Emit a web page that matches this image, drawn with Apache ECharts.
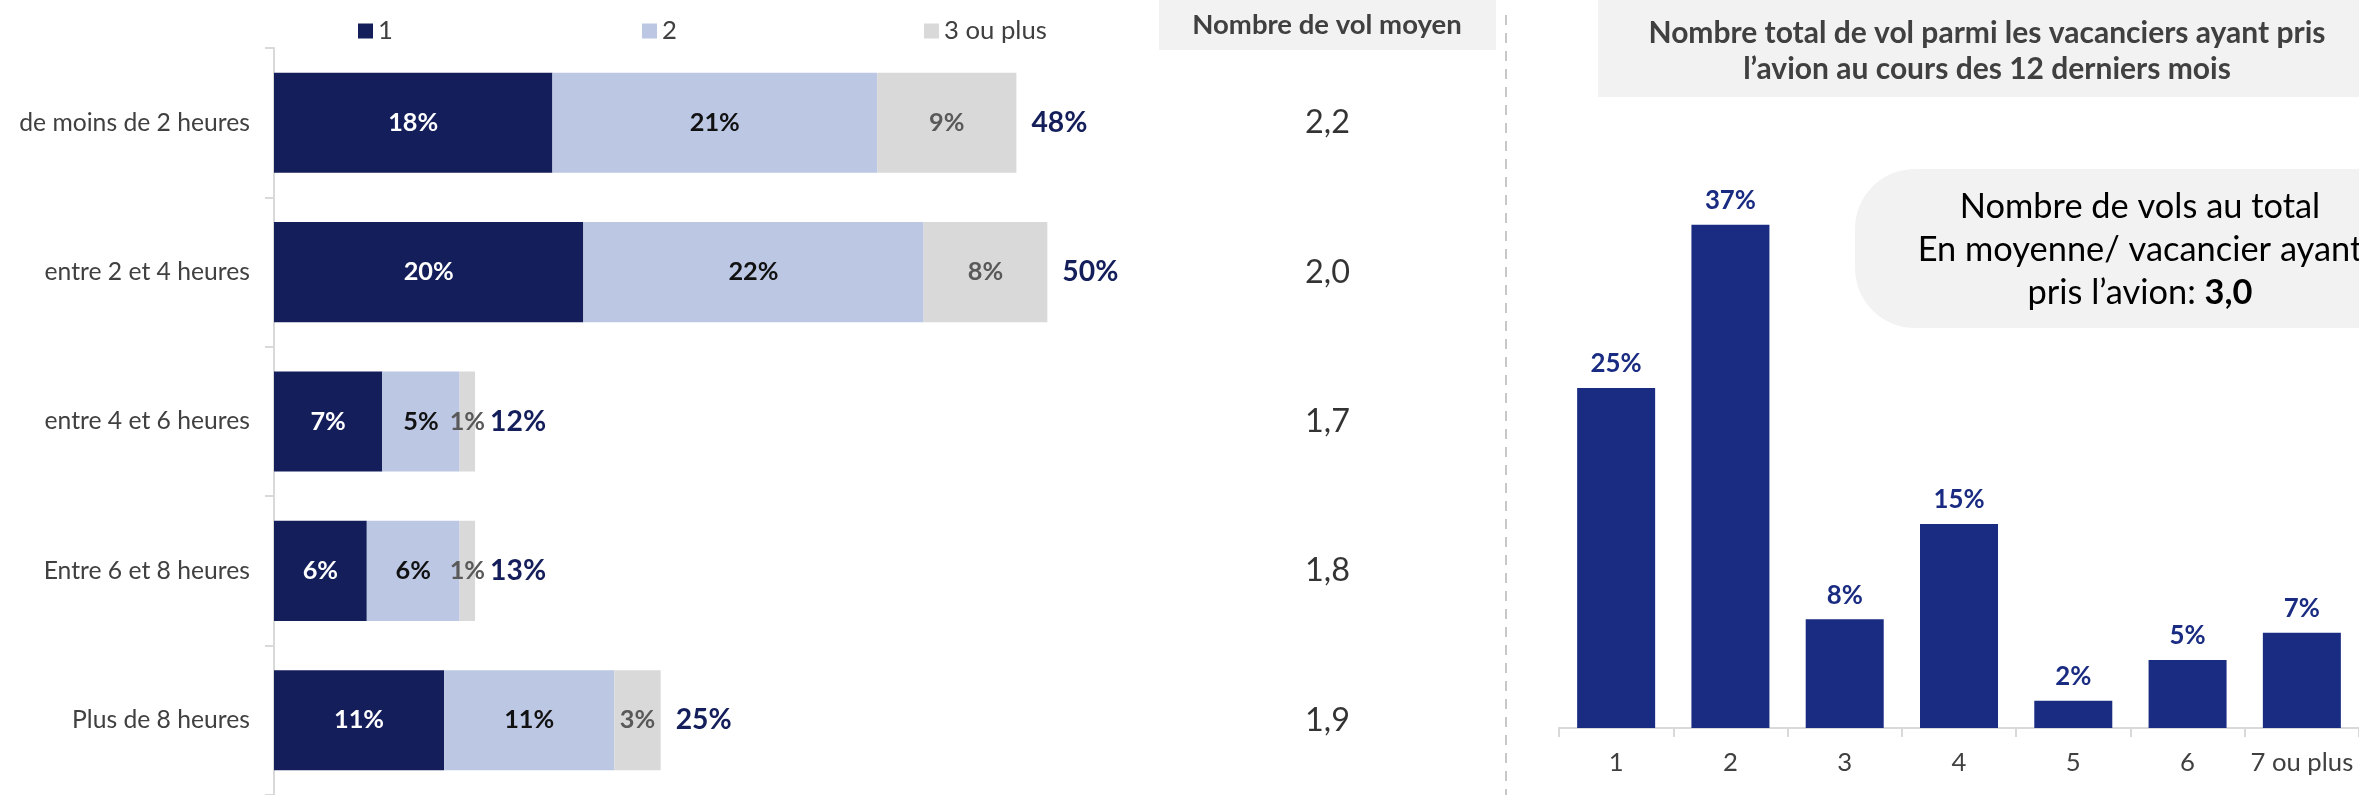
<!DOCTYPE html>
<html>
<head>
<meta charset="utf-8">
<script src="https://cdn.jsdelivr.net/npm/echarts@6/dist/echarts.min.js"></script>
<style>
  html, body { margin: 0; padding: 0; background: #ffffff; }
  #chart { width: 2359px; height: 795px; }
</style>
</head>
<body>
<div id="chart"></div>
<script>
// Flight duration categories and share of holidaymakers by number of flights
const durations = ['de moins de 2 heures', 'entre 2 et 4 heures', 'entre 4 et 6 heures', 'Entre 6 et 8 heures', 'Plus de 8 heures'];
const legendNames = ['1', '2', '3 ou plus'];
const oneFlight = [18, 20, 7, 6, 11];
const twoFlights = [21, 22, 5, 6, 11];
const threePlus = [9, 8, 1, 1, 3];
const totals = [48, 50, 12, 13, 25];

// Average number of flights per duration
const avgFlights = [2.2, 2.0, 1.7, 1.8, 1.9];

// Total number of flights over the last 12 months
const flightCounts = ['1', '2', '3', '4', '5', '6', '7 ou plus'];
const flightShares = [25, 37, 8, 15, 2, 5, 7];
const overallAverage = 3.0;

const FONT = 'Lato, "Open Sans", sans-serif';
const NAVY = '#141E5A';
const LIGHT = '#BCC7E4';
const GREY = '#D9D9D9';
const BLUE = '#1A2C82';
const TEXT = '#404040';

const fr = v => v.toFixed(1).replace('.', ',');

// font size giving a string a set pixel width
const measureCtx = document.createElement('canvas').getContext('2d');
function fit(text, width, weight) {
  measureCtx.font = (weight || 'normal') + ' 100px ' + FONT;
  return Math.round(1000 * width / measureCtx.measureText(text).width) / 10;
}

const SZ = {
  category: fit('de moins de 2 heures', 231),
  legend: fit('3 ou plus', 103),
  segment: fit('21%', 50, 'bold'),
  total: fit('48%', 56, 'bold'),
  header: fit('Nombre de vol moyen', 269, 'bold'),
  average: fit('2,2', 45),
  title: fit('Nombre total de vol parmi les vacanciers ayant pris', 677, 'bold'),
  box: fit('Nombre de vols au total', 360),
  barLabel: fit('37%', 51, 'bold'),
  xLabel: fit('7 ou plus', 103)
};

const chart = echarts.init(document.getElementById('chart'), null, { renderer: 'canvas' });

const segLabel = color => ({
  show: true,
  position: 'inside',
  formatter: p => p.value + '%',
  fontFamily: FONT,
  fontSize: SZ.segment,
  fontWeight: 'bold',
  color: color
});

// one legend block per series so each key sits in its own column
const legendLefts = [353, 637, 919];
const legends = legendNames.map((name, i) => ({
  data: [name],
  left: legendLefts[i],
  top: 13,
  icon: 'rect',
  itemWidth: 15,
  itemHeight: 15,
  itemGap: 0,
  selectedMode: false,
  textStyle: { fontFamily: FONT, fontSize: SZ.legend, color: TEXT }
}));

const text = (t, x, y, size, extra) => ({
  type: 'text',
  style: Object.assign({ text: t, x: x, y: y, align: 'center', verticalAlign: 'middle',
    fontFamily: FONT, fontSize: size, fill: '#000000' }, extra || {})
});

chart.setOption({
  animation: false,
  textStyle: { fontFamily: FONT },
  legend: legends,
  grid: [
    { left: 274, top: 48, width: 928, height: 750 },
    { left: 1159, top: 48, width: 337, height: 750 },
    { left: 1559, top: 48, width: 804, height: 680 }
  ],
  xAxis: [
    { gridIndex: 0, type: 'value', min: 0, max: 60, show: false },
    { gridIndex: 1, type: 'value', min: 0, max: 1, show: false },
    {
      gridIndex: 2, type: 'category', data: flightCounts,
      axisLine: { lineStyle: { color: GREY, width: 2 } },
      axisTick: { show: true, interval: 0, length: 9, lineStyle: { color: GREY, width: 2 } },
      axisLabel: { interval: 0, fontFamily: FONT, fontSize: SZ.xLabel, color: TEXT, margin: 22 }
    }
  ],
  yAxis: [
    {
      gridIndex: 0, type: 'category', data: durations, inverse: true,
      axisLine: { lineStyle: { color: GREY, width: 2 } },
      axisTick: { show: true, interval: 0, length: 9, lineStyle: { color: GREY, width: 2 } },
      axisLabel: { interval: 0, fontFamily: FONT, fontSize: SZ.category, color: TEXT, margin: 24 }
    },
    { gridIndex: 1, type: 'category', data: durations, inverse: true, show: false },
    { gridIndex: 2, type: 'value', min: 0, max: 50, show: false }
  ],
  series: [
    {
      name: legendNames[0], type: 'bar', stack: 'dur', xAxisIndex: 0, yAxisIndex: 0,
      barWidth: '67%', data: oneFlight, itemStyle: { color: NAVY },
      label: segLabel('#ffffff')
    },
    {
      name: legendNames[1], type: 'bar', stack: 'dur', xAxisIndex: 0, yAxisIndex: 0,
      barWidth: '67%', data: twoFlights, itemStyle: { color: LIGHT },
      label: segLabel('#111111')
    },
    {
      name: legendNames[2], type: 'bar', stack: 'dur', xAxisIndex: 0, yAxisIndex: 0,
      barWidth: '67%', data: threePlus, itemStyle: { color: GREY },
      label: segLabel('#595959')
    },
    {
      // zero-width segment at the end of each stack, carrying the total label
      name: 'total', type: 'bar', stack: 'dur', xAxisIndex: 0, yAxisIndex: 0,
      barWidth: '67%', data: totals.map(() => 0), silent: true,
      itemStyle: { color: 'rgba(0,0,0,0)' },
      label: {
        show: true, position: 'right', distance: 15,
        formatter: p => totals[p.dataIndex] + '%',
        fontFamily: FONT, fontSize: SZ.total, fontWeight: 'bold', color: NAVY
      }
    },
    {
      name: 'moyenne', type: 'scatter', xAxisIndex: 1, yAxisIndex: 1,
      data: avgFlights.map((v, i) => [0.5, i, v]),
      symbolSize: 1, itemStyle: { color: 'rgba(0,0,0,0)' }, silent: true,
      label: {
        show: true, position: 'inside',
        formatter: p => fr(p.value[2]),
        fontFamily: FONT, fontSize: SZ.average, color: '#000000'
      }
    },
    {
      name: 'vols', type: 'bar', xAxisIndex: 2, yAxisIndex: 2,
      barWidth: 78, data: flightShares, itemStyle: { color: BLUE },
      label: {
        show: true, position: 'top', distance: 11,
        formatter: p => p.value + '%',
        fontFamily: FONT, fontSize: SZ.barLabel, fontWeight: 'bold', color: BLUE
      }
    }
  ],
  graphic: [
    { type: 'rect', z: -1, shape: { x: 1159, y: 0, width: 337, height: 50 }, style: { fill: '#F2F2F2' } },
    text('Nombre de vol moyen', 1327, 25, SZ.header, { fontWeight: 'bold', fill: TEXT }),
    { type: 'line', shape: { x1: 1506, y1: 15, x2: 1506, y2: 795 },
      style: { stroke: '#C8C8C8', lineWidth: 2, lineDash: [10, 8] } },
    { type: 'rect', z: -1, shape: { x: 1598, y: 0, width: 761, height: 97 }, style: { fill: '#F2F2F2' } },
    text('Nombre total de vol parmi les vacanciers ayant pris', 1987, 33, SZ.title, { fontWeight: 'bold', fill: TEXT }),
    text('l’avion au cours des 12 derniers mois', 1987, 69, SZ.title, { fontWeight: 'bold', fill: TEXT }),
    { type: 'rect', z: -1, shape: { x: 1855, y: 169, width: 620, height: 159, r: 60 }, style: { fill: '#F2F2F2' } },
    text('Nombre de vols au total', 2140, 207, SZ.box),
    text('En moyenne/ vacancier ayant', 2140, 250, SZ.box),
    { type: 'text', style: {
      text: '{a|pris l’avion: }{b|' + fr(overallAverage) + '}', x: 2140, y: 293,
      align: 'center', verticalAlign: 'middle',
      rich: {
        a: { fontFamily: FONT, fontSize: SZ.box, color: '#000000' },
        b: { fontFamily: FONT, fontSize: SZ.box, fontWeight: 'bold', color: '#000000' }
      } } }
  ]
});
</script>
</body>
</html>
